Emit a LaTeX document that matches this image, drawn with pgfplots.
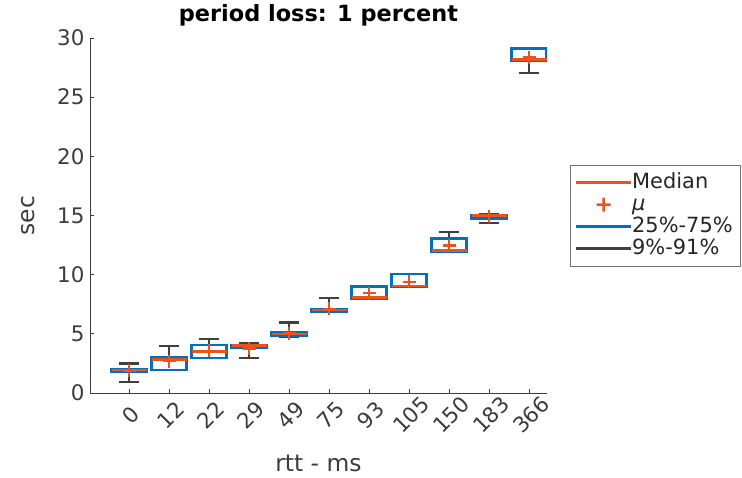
\documentclass[border=0pt]{standalone}
\usepackage{fontspec}
\setmainfont{DejaVu Sans}
\usepackage{pgfplots}
\pgfplotsset{compat=1.18}
\usepgfplotslibrary{statistics}
\definecolor{mblue}{RGB}{0,114,189}
\definecolor{morange}{RGB}{235,83,30}
\definecolor{mgray}{RGB}{64,64,64}
\definecolor{axgray}{RGB}{60,60,60}
% draw position, lower whisker, lower quartile, median, upper quartile, upper whisker
\newcommand{\bx}[6]{\addplot[forget plot, boxplot prepared={draw direction=y, draw position=#1, lower whisker=#2, lower quartile=#3, median=#4, upper quartile=#5, upper whisker=#6}] coordinates {};}
\begin{document}
\begin{tikzpicture}
\path[use as bounding box] (-90bp,-85bp) rectangle (652bp,393bp);
\begin{axis}[
  scale only axis, width=457bp, height=355bp,
  xmin=0.025, xmax=11.45, ymin=0, ymax=30,
  axis x line*=bottom, axis y line*=left,
  axis line style={-, draw=axgray, line width=0.8bp},
  tick align=inside, major tick length=4bp,
  tick style={axgray, line width=0.8bp},
  xtick={1,...,11}, xticklabels={0,12,22,29,49,75,93,105,150,183,366},
  ytick={0,5,...,30},
  /pgf/number format/assume math mode=true,
  tick label style={font=\fontsize{21.5}{24}\selectfont, text=axgray},
  xticklabel style={yshift=-22bp, xshift=2bp, rotate=45, anchor=center, inner sep=0pt},
  yticklabel style={xshift=-2bp},
  title={period loss: 1 percent},
  title style={font=\bfseries\fontsize{22.5}{26}\selectfont, at={(axis description cs:0.5,1.047)}, anchor=center},
  xlabel={rtt - ms}, ylabel={sec},
  x label style={font=\fontsize{23.5}{26}\selectfont, text=axgray, at={(axis description cs:0.5,-0.1972)}, anchor=center},
  y label style={font=\fontsize{23.5}{26}\selectfont, text=axgray, at={(axis description cs:-0.1346,0.5)}, anchor=center},
  boxplot/draw direction=y,
  boxplot/box extend=0.875,
  boxplot/whisker extend=0.52,
  boxplot/every box/.style={draw=mblue, line width=2.4bp},
  boxplot/every whisker/.style={draw=mgray, line width=2.2bp},
  boxplot/every median/.style={draw=morange, line width=2.5bp},
  legend style={at={(axis description cs:1.0503,0.6423)}, anchor=north west, draw=black!55,
    font=\fontsize{21}{24}\selectfont, text=black!85, inner xsep=6bp, inner ysep=6.5bp,
    nodes={inner xsep=1bp, inner ysep=1bp, text height=15.5bp, text depth=4.5bp},
    /tikz/column sep=0bp, cells={anchor=west}},
]
\bx{1}{0.95}{1.8}{1.95}{2.05}{2.5}
\bx{2}{1.95}{1.95}{2.85}{3.0}{4.0}
\bx{3}{2.95}{2.95}{3.5}{4.05}{4.55}
\bx{4}{2.95}{3.85}{4.0}{4.05}{4.18}
\bx{5}{4.75}{4.85}{5.0}{5.1}{5.95}
\bx{6}{6.85}{6.9}{7.0}{7.05}{8.0}
\bx{7}{7.95}{7.95}{8.05}{9.0}{9.0}
\bx{8}{8.95}{8.95}{9.05}{10.05}{10.05}
\bx{9}{11.95}{11.95}{12.05}{13.05}{13.6}
\bx{10}{14.4}{14.75}{15.0}{15.05}{15.1}
\bx{11}{27.05}{28.1}{28.2}{29.1}{29.1}
\addplot[forget plot, only marks, mark=+, mark size=6.5bp, morange, mark options={line width=2.5bp}] coordinates {
(1,1.9) (2,2.7) (3,3.55) (4,3.75) (5,5.05) (6,7.1) (7,8.45) (8,9.4) (9,12.45) (10,14.95) (11,28.35)};
\addlegendimage{legend image code/.code={\fill[morange, draw=none] (0bp,-1.3bp) rectangle (55bp,1.3bp);}}
\addlegendentry{Median}
\addlegendimage{legend image code/.code={\path[draw=none, fill=none] (0bp,-1bp) rectangle (55bp,1bp); \fill[morange, draw=none] (20.5bp,-1.3bp) rectangle (34.5bp,1.3bp) (26.2bp,-7bp) rectangle (28.8bp,7bp);}}
\addlegendentry{\textit{μ}}
\addlegendimage{legend image code/.code={\fill[mblue, draw=none] (0bp,-1.3bp) rectangle (55bp,1.3bp);}}
\addlegendentry{25\%-75\%}
\addlegendimage{legend image code/.code={\fill[mgray, draw=none] (0bp,-1.3bp) rectangle (55bp,1.3bp);}}
\addlegendentry{9\%-91\%}
\end{axis}
\end{tikzpicture}
\end{document}
